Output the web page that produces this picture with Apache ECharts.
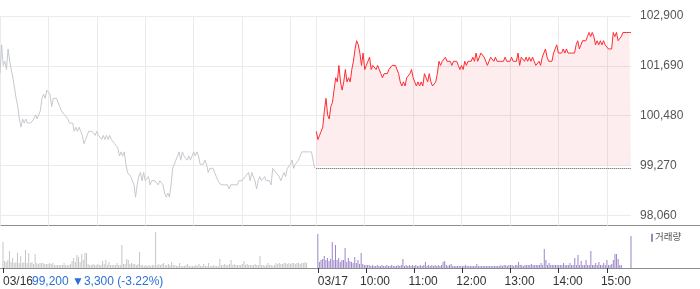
<!DOCTYPE html>
<html><head><meta charset="utf-8">
<script src="https://cdn.jsdelivr.net/npm/echarts@6/dist/echarts.min.js"></script>
<style>html,body{margin:0;padding:0;background:#fff}#c{width:700px;height:289px}</style>
</head><body><div id="c"></div>
<script>
// ---------- data ----------
const days = ['03/16', '03/17'];
// session minutes 09:00 .. 15:30, every 2 minutes
const sessionTimes = [];
for (let m = 540; m <= 930; m += 2) {
  sessionTimes.push(String(Math.floor(m / 60)).padStart(2, '0') + ':' + String(m % 60).padStart(2, '0'));
}
const categories = [];
days.forEach(d => sessionTimes.forEach(t => categories.push(d + ' ' + t)));

const yTicks = [98060, 99270, 100480, 101690, 102900];
const prevClose = 99200;
const change = -3300;
const changePct = -3.22;

const day1Prices = [
101500,102200,101700,101800,101600,102100,101800,101600,101400,101400,
100900,100700,100400,100200,100400,100300,100400,100300,100300,100300,
100300,100400,100500,100400,100500,100600,100900,101000,100900,101100,
101100,101000,100700,100900,100900,100900,100800,100700,100600,100600,
100500,100500,100400,100300,100300,100300,100100,100200,100100,100200,
100100,100000,99800,99900,100000,100100,100100,100100,100100,100000,
100100,100000,100000,99900,100000,99900,100000,99900,100000,99900,
99900,99800,99800,99700,99500,99600,99500,99600,99300,99100,
99100,99000,98900,98800,98500,98800,99000,99100,98900,99100,
98900,98900,99000,98800,98900,98900,98900,98900,98800,98900,
98900,98800,98600,98500,98600,98500,98800,99200,99200,99400,
99500,99600,99400,99600,99500,99500,99400,99500,99400,99500,
99600,99500,99600,99500,99300,99300,99300,99400,99300,99100,
99200,99200,99200,99200,99000,98900,98900,98800,98800,98800,
98800,98800,98700,98800,98800,98800,98800,98800,98900,98900,
98900,98900,99000,99000,99100,98900,99100,99100,98900,98700,
98900,99000,98900,98900,99000,98900,98900,98900,98800,99200,
99200,99100,99100,99000,98900,98900,99100,99000,99200,99200,
99300,99400,99200,99300,99300,99400,99500,99600,99600,99600,
99600,99600,99600,99600,99600,99200
];
const day2Prices = [
100100,99900,100000,100100,100200,100600,100900,100500,100400,100700,
100800,101100,101400,101300,101700,101300,101100,101300,101600,101300,
101400,101300,101600,101800,102100,102300,102200,102000,101700,102000,
101600,101700,101800,101900,101600,101700,101700,101600,101700,101600,
101500,101400,101500,101500,101500,101600,101600,101700,101700,101700,
101700,101500,101300,101200,101300,101200,101400,101400,101500,101600,
101400,101300,101200,101300,101200,101300,101200,101500,101400,101300,
101500,101300,101200,101200,101300,101500,101800,101700,101800,101800,
101900,101800,101800,101800,101700,101800,101800,101800,101700,101600,
101700,101600,101800,101700,101800,101800,101800,101900,101800,102000,
101800,101900,102000,102000,101900,101800,101700,101800,101900,101900,
101800,101900,101800,101800,101800,101800,101800,101900,101800,101800,
101800,101900,101800,101800,101800,102000,101700,101900,101900,101800,
101900,101800,101900,101800,101900,101800,101700,101700,101800,101700,
101900,102000,102100,101900,101800,101800,101800,102000,102100,102200,
102000,102000,102000,102100,102000,102100,102000,102000,102000,102000,
102000,102200,102300,102100,102200,102300,102300,102300,102400,102500,
102400,102500,102400,102200,102300,102200,102300,102200,102300,102200,
102200,102100,102100,102100,102500,102400,102500,102300,102300,102400,
102500,102500,102500,102500,102500,102500
];
// volume, thousand shares
const day1Volume = [
26,7,6,8,17,6,10,5,6,15,5,12,5,6,18,5,15,5,6,4,
14,5,4,5,5,5,4,4,4,5,4,5,3,3,3,3,3,3,5,3,
3,3,4,7,10,6,13,11,6,14,8,15,15,4,3,3,4,3,3,4,
3,3,7,4,8,3,6,3,3,3,3,5,3,3,23,4,4,9,8,4,
5,4,4,3,4,16,3,3,2,3,2,3,2,3,3,36,3,4,3,4,
5,3,3,4,3,6,3,3,2,2,5,2,2,2,3,4,2,2,2,2,
3,2,4,2,2,4,2,2,5,2,2,3,2,2,2,9,3,3,4,3,
3,4,8,3,4,3,3,3,3,4,7,3,4,3,3,3,3,4,3,3,
12,3,3,2,3,5,3,3,2,3,5,4,5,4,4,5,5,4,5,4,
5,5,4,5,5,4,5,5,6,5,0,0,0,0,0,0
];
const day2Volume = [
34,6,8,9,12,8,10,7,9,26,8,23,8,10,6,8,8,20,6,10,
7,6,5,11,5,8,4,15,4,3,3,3,3,2,3,2,2,3,2,2,
3,2,2,3,2,2,3,2,2,2,3,2,3,9,2,3,2,3,2,3,
2,3,2,2,3,2,3,6,2,3,2,3,2,3,2,3,2,3,6,7,
3,2,3,4,2,2,2,2,2,2,2,2,3,2,2,2,2,2,2,4,
2,2,2,2,2,2,2,2,2,2,2,2,2,2,3,2,3,3,2,3,
3,3,2,3,3,6,3,3,2,3,3,3,3,4,3,3,3,3,3,5,
3,19,8,3,5,3,3,3,3,3,3,3,3,5,3,3,3,5,3,3,
10,3,13,3,7,3,3,8,3,3,17,3,3,5,3,6,3,3,5,3,
8,3,3,4,8,14,14,9,3,3,0,0,0,0,0,32
];
const volumeName = '거래량';

const xTickCats = ['03/16 09:00','03/17 09:00','03/17 10:00','03/17 11:00','03/17 12:00','03/17 13:00','03/17 14:00','03/17 15:00'];
const xTickLabels = ['03/16','03/17','10:00','11:00','12:00','13:00','14:00','15:00'];
const gridCats = ['03/16 09:00','03/16 10:00','03/16 11:00','03/16 12:00','03/16 13:00','03/16 14:00','03/16 15:00',
                  '03/17 09:00','03/17 10:00','03/17 11:00','03/17 12:00','03/17 13:00','03/17 14:00','03/17 15:00'];

// ---------- chart ----------
const FONT = '"Liberation Sans", Arial, "Noto Sans CJK KR", sans-serif';
const n1 = day1Prices.length, n2 = day2Prices.length;
const pad = (n) => new Array(n).fill(null);
const fmt = (v) => Math.abs(v).toLocaleString('en-US');

const chart = echarts.init(document.getElementById('c'), null, {renderer: 'canvas'});
chart.setOption({
  animation: false,
  textStyle: {fontFamily: FONT},
  title: {
    text: fmt(prevClose) + ' ▼' + fmt(change) + ' (' + changePct.toFixed(2) + '%)',
    left: 32, top: 276, padding: 0,
    textStyle: {color: '#2d6fd7', fontSize: 12, fontWeight: 'normal', fontFamily: FONT}
  },
  legend: {
    data: [volumeName], left: 651, top: 233, padding: 0,
    icon: 'rect', itemWidth: 2, itemHeight: 8, selectedMode: false,
    textStyle: {color: '#555', fontSize: 9.5, fontFamily: FONT, padding: [0, 0, 0, -3]}
  },
  grid: [
    {left: 0, right: 69, top: 16, height: 209.7},
    {left: 0, right: 69, top: 226, height: 42}
  ],
  xAxis: [
    {type: 'category', gridIndex: 0, data: categories, boundaryGap: false,
     axisLine: {show: false}, axisTick: {show: false}, axisLabel: {show: false},
     splitLine: {show: true, interval: (i, v) => gridCats.indexOf(v) >= 0, lineStyle: {color: '#ebebeb', width: 1}}},
    {type: 'category', gridIndex: 1, data: categories, boundaryGap: false,
     axisLine: {show: false},
     axisTick: {show: true, interval: (i, v) => xTickCats.indexOf(v) >= 0, length: 5, lineStyle: {color: '#333'}},
     axisLabel: {
       interval: (i, v) => xTickCats.indexOf(v) >= 0, margin: 8,
       formatter: (v) => { const k = xTickCats.indexOf(v); return (k < 2 ? '{d|' : '{h|') + xTickLabels[k] + '}'; },
       rich: {
         d: {padding: [0, 0, 0, 30], fontSize: 12, color: '#333', fontFamily: FONT},
         h: {padding: [0, 0, 0, 18], fontSize: 12, color: '#333', fontFamily: FONT}
       }
     },
     splitLine: {show: false}}
  ],
  yAxis: [
    {type: 'value', gridIndex: 0, position: 'right', min: 97807, max: 102900, scale: true,
     axisLine: {show: false},
     axisTick: {show: false, customValues: yTicks},
     axisLabel: {customValues: yTicks, margin: 9, color: '#555', fontSize: 12, fontFamily: FONT,
                 formatter: (v) => v.toLocaleString('en-US')},
     splitLine: {show: true, lineStyle: {color: '#ebebeb', width: 1}}},
    {type: 'value', gridIndex: 1, min: 0, max: 42, show: false}
  ],
  graphic: [
    {type: 'line', silent: true, shape: {x1: 0, y1: 225.5, x2: 700, y2: 225.5}, style: {stroke: '#8c8c8c', lineWidth: 1}},
    {type: 'line', silent: true, shape: {x1: 0, y1: 268.5, x2: 700, y2: 268.5}, style: {stroke: '#8c8c8c', lineWidth: 1}}
  ],
  series: [
    {type: 'line', name: '03/16', xAxisIndex: 0, yAxisIndex: 0, data: day1Prices.concat(pad(n2)),
     symbol: 'none', silent: true, lineStyle: {color: '#c5c8cd', width: 1}},
    {type: 'line', name: '03/17', xAxisIndex: 0, yAxisIndex: 0, data: pad(n1).concat(day2Prices),
     symbol: 'none', silent: true, lineStyle: {color: '#ff2a2f', width: 1},
     areaStyle: {color: 'rgba(245,60,80,0.13)', origin: yTicks[1]},
     markLine: {silent: true, symbol: 'none', label: {show: false},
       lineStyle: {type: [1, 1], color: '#555', width: 1},
       data: [[{coord: ['03/17 09:00', prevClose]}, {coord: ['03/17 15:30', prevClose]}]]}},
    {type: 'bar', name: 'vol1', xAxisIndex: 1, yAxisIndex: 1, data: day1Volume.concat(pad(n2)),
     barWidth: 1, silent: true, itemStyle: {color: '#c6c6c6'}},
    {type: 'bar', name: volumeName, xAxisIndex: 1, yAxisIndex: 1, data: pad(n1).concat(day2Volume),
     barWidth: 1, barGap: '-100%', silent: true, itemStyle: {color: '#9b86c9'}}
  ]
});
</script>
</body></html>
